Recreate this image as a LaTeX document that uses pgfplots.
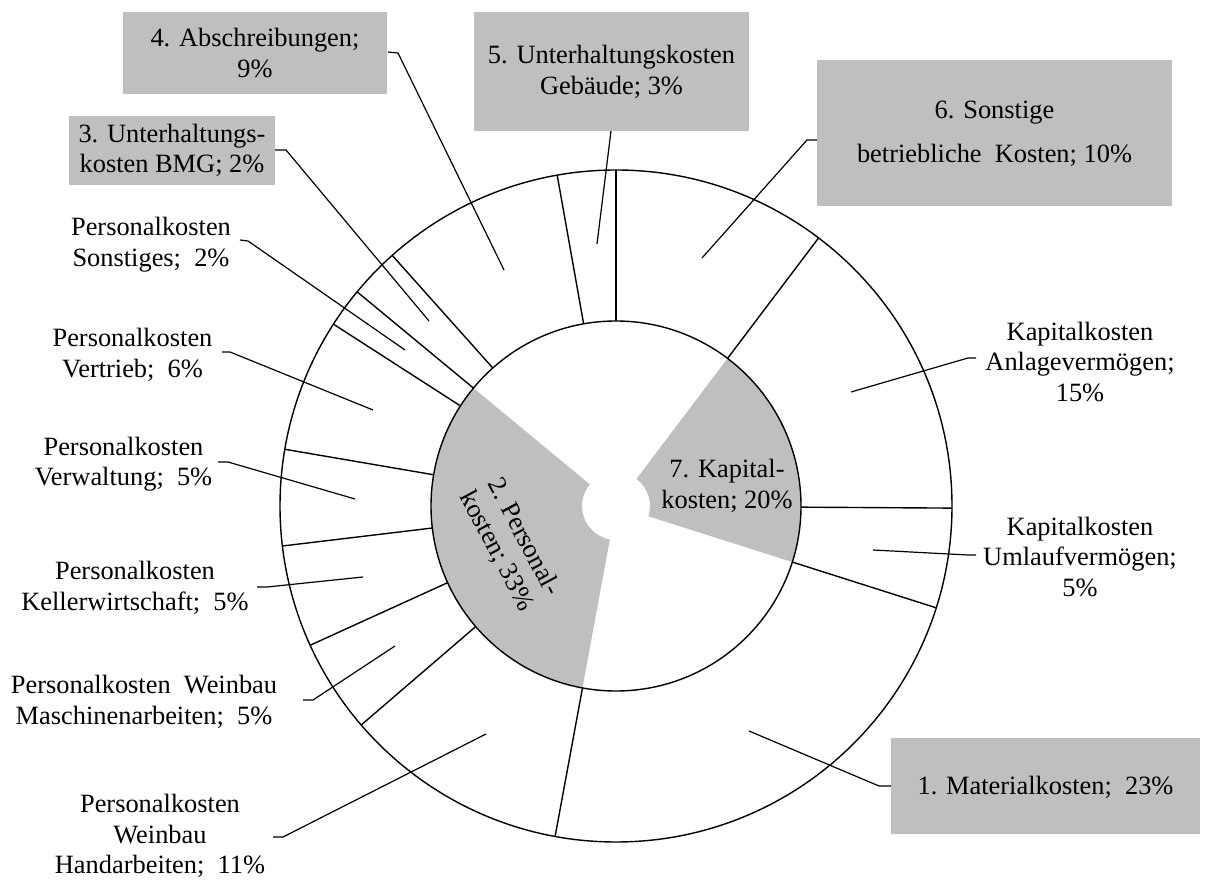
\documentclass[border=0pt]{standalone}
\usepackage{fontspec}
\setmainfont{Liberation Serif}
\usepackage{pgfplots}
\usepackage{pgfplotstable}
\pgfplotsset{compat=1.18}
\definecolor{kgray}{RGB}{191,191,191}

% inner ring: cost groups, clockwise from 12 o'clock (share in %)
\pgfplotstableread{
seg       val   fill
Sonstige  10.3  0
Kapital   19.6  1
Material  23.0  0
Personal  33.1  1
BMG       2.4   0
Abschr    8.8   0
Gebaeude  2.8   0
}\innerring

% outer ring: sub-items, same order
\pgfplotstableread{
seg       val
Sonstige  10.3
Anlage    14.8
Umlauf    4.8
Material  23.0
Hand      10.8
Masch     4.5
Keller    4.9
Verw      4.6
Vertrieb  6.4
PSonst    1.9
BMG       2.4
Abschr    8.8
Gebaeude  2.8
}\outerring

\tikzset{
  lbl/.style={align=center, font=\fontsize{13.2}{15.2}\selectfont, inner sep=0pt},
  lead/.style={line width=0.6pt},
}

\begin{document}
\begin{tikzpicture}
\begin{axis}[
    x=0.5pt, y=0.5pt,
    xmin=0, xmax=1211, ymin=0, ymax=884,
    hide axis, clip=false,
]
\path (axis cs:0,0) rectangle (axis cs:1211,884);

% grey wedges of the inner ring
\pgfplotsextra{
  \pgfplotstablegetrowsof{\innerring}
  \pgfmathtruncatemacro\n{\pgfplotsretval-1}
  \xdef\acc{90}
  \foreach \i in {0,...,\n}{
    \pgfplotstablegetelem{\i}{val}\of\innerring \let\v\pgfplotsretval
    \pgfplotstablegetelem{\i}{fill}\of\innerring \let\f\pgfplotsretval
    \pgfmathsetmacro\aend{\acc-3.6*\v}
    \ifnum\f=1
      \fill[kgray] (axis cs:616,378) ++(\acc:17pt)
        arc[start angle=\acc, end angle=\aend, radius=17pt]
        -- ++(\aend:75.5pt)
        arc[start angle=\aend, end angle=\acc, radius=92.5pt] -- cycle;
    \fi
    \xdef\acc{\aend}
  }
  % rings and radial borders of the outer ring
  \draw[line width=0.7pt] (axis cs:616,378) circle[radius=92.5pt];
  \draw[line width=0.7pt] (axis cs:616,378) circle[radius=168pt];
  \pgfplotstablegetrowsof{\outerring}
  \pgfmathtruncatemacro\n{\pgfplotsretval-1}
  \xdef\acc{90}
  \foreach \i in {0,...,\n}{
    \pgfplotstablegetelem{\i}{val}\of\outerring \let\v\pgfplotsretval
    \draw[line width=0.7pt] (axis cs:616,378) ++(\acc:92.5pt) -- ++(\acc:75.5pt);
    \pgfmathsetmacro\aend{\acc-3.6*\v}
    \xdef\acc{\aend}
  }
}

% label boxes
\fill[kgray] (axis cs:123,872) rectangle (axis cs:387,790);
\fill[kgray] (axis cs:69,768) rectangle (axis cs:275,699);
\fill[kgray] (axis cs:474,872) rectangle (axis cs:749,753);
\fill[kgray] (axis cs:817,824) rectangle (axis cs:1172,678);
\fill[kgray] (axis cs:891,146) rectangle (axis cs:1200,50);

% leader lines
\draw[lead] (axis cs:388,832) -- (axis cs:398,831) -- (axis cs:504,614);
\draw[lead] (axis cs:611,753) -- (axis cs:597,640);
\draw[lead] (axis cs:817,744) -- (axis cs:807,744) -- (axis cs:702,626);
\draw[lead] (axis cs:275,734) -- (axis cs:286,734) -- (axis cs:429,563);
\draw[lead] (axis cs:240,644) -- (axis cs:248,643) -- (axis cs:405,534);
\draw[lead] (axis cs:222,532) -- (axis cs:230,532) -- (axis cs:373,474);
\draw[lead] (axis cs:218,422) -- (axis cs:228,422) -- (axis cs:355,385);
\draw[lead] (axis cs:257,297) -- (axis cs:267,297) -- (axis cs:363,307);
\draw[lead] (axis cs:303,184) -- (axis cs:313,184) -- (axis cs:395,238);
\draw[lead] (axis cs:273,47) -- (axis cs:283,47) -- (axis cs:486,150);
\draw[lead] (axis cs:891,98) -- (axis cs:879,98) -- (axis cs:749,153);
\draw[lead] (axis cs:851,492) -- (axis cs:968,526) -- (axis cs:976,526);
\draw[lead] (axis cs:873,334) -- (axis cs:968,329) -- (axis cs:976,329);

% labels
\node[lbl] at (axis cs:255,831) {4. Abschreibungen;\\9\%};
\node[lbl] at (axis cs:172,733.5) {3. Unterhaltungs-\\kosten BMG; 2\%};
\node[lbl] at (axis cs:611.5,812) {5. Unterhaltungskosten\\Gebäude; 3\%};
\node[lbl] at (axis cs:994.5,750) {6. Sonstige\\[7pt]betriebliche\hspace{0.5em}Kosten; 10\%};
\node[lbl] at (axis cs:1045.5,97) {1. Materialkosten;\hspace{0.5em}23\%};
\node[lbl] at (axis cs:151,639.5) {Personalkosten\\Sonstiges;\hspace{0.5em}2\%};
\node[lbl] at (axis cs:132.5,529) {Personalkosten\\Vertrieb;\hspace{0.5em}6\%};
\node[lbl] at (axis cs:123.5,420) {Personalkosten\\Verwaltung;\hspace{0.5em}5\%};
\node[lbl] at (axis cs:135,296) {Personalkosten\\Kellerwirtschaft;\hspace{0.5em}5\%};
\node[lbl] at (axis cs:144,182) {Personalkosten\hspace{0.5em}Weinbau\\Maschinenarbeiten;\hspace{0.5em}5\%};
\node[lbl] at (axis cs:160,48) {Personalkosten\\Weinbau\\Handarbeiten;\hspace{0.5em}11\%};
\node[lbl] at (axis cs:1080,522) {Kapitalkosten\\Anlagevermögen;\\15\%};
\node[lbl] at (axis cs:1080,327) {Kapitalkosten\\Umlaufvermögen;\\5\%};
\node[lbl, rotate=-62] at (axis cs:510,340) {2. Personal-\\kosten; 33\%};
\node[lbl] at (axis cs:727,398) {7. Kapital-\\kosten; 20\%};
\end{axis}
\end{tikzpicture}
\end{document}
